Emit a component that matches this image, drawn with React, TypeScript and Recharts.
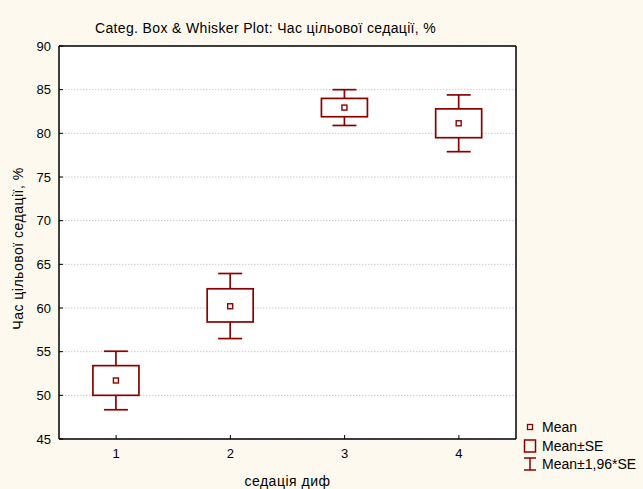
import React from 'react'
import { ComposedChart, Bar, XAxis, YAxis, CartesianGrid, Legend } from 'recharts'

// sedation groups and their statistics
const categories = ['1', '2', '3', '4']
const means = [51.7, 60.2, 82.95, 81.15]
const seLow = [50.0, 58.4, 81.9, 79.5]
const seHigh = [53.4, 62.2, 84.0, 82.8]
const ciLow = [48.35, 56.5, 80.9, 77.9]
const ciHigh = [55.05, 63.95, 85.0, 84.4]
const yTicks = [45, 50, 55, 60, 65, 70, 75, 80, 85, 90]

const data = categories.map((cat, i) => ({
  cat,
  mean: means[i],
  seLow: seLow[i],
  seHigh: seHigh[i],
  ci: [ciLow[i], ciHigh[i]],
}))

const RED = '#8b0000'
const FONT = '"Liberation Sans", Arial, sans-serif'

// the bar spans the 1.96*SE range; box and mean are placed inside it
const BoxShape = (props: any) => {
  const { x, y, width, height, payload } = props
  const top = Math.min(y, y + height)
  const h = Math.abs(height)
  const [lo, hi] = payload.ci
  const py = (v: number) => top + ((hi - v) / (hi - lo)) * h
  const cx = x + width / 2
  const boxW = 46
  const capW = 24
  return (
    <g>
      <line x1={cx} x2={cx} y1={py(hi)} y2={py(lo)} stroke={RED} strokeWidth={1.7} />
      <line x1={cx - capW / 2} x2={cx + capW / 2} y1={py(hi)} y2={py(hi)} stroke={RED} strokeWidth={1.7} />
      <line x1={cx - capW / 2} x2={cx + capW / 2} y1={py(lo)} y2={py(lo)} stroke={RED} strokeWidth={1.7} />
      <rect
        x={cx - boxW / 2}
        y={py(payload.seHigh)}
        width={boxW}
        height={py(payload.seLow) - py(payload.seHigh)}
        fill="#fff"
        stroke={RED}
        strokeWidth={1.7}
      />
      <rect x={cx - 2.5} y={py(payload.mean) - 2.5} width={5} height={5} fill="#fff" stroke={RED} strokeWidth={1.4} />
    </g>
  )
}

const LegendContent = () => (
  <div style={{ fontFamily: FONT, fontSize: 14, color: '#000', lineHeight: '18.5px' }}>
    <div style={{ display: 'flex', alignItems: 'center', height: 18.5 }}>
      <svg width={20} height={18}>
        <rect x={5.5} y={6.5} width={5} height={5} fill="none" stroke={RED} strokeWidth={1.3} />
      </svg>
      <span>Mean</span>
    </div>
    <div style={{ display: 'flex', alignItems: 'center', height: 18.5 }}>
      <svg width={20} height={18}>
        <rect x={2.5} y={3} width={11} height={12} fill="none" stroke={RED} strokeWidth={1.5} />
      </svg>
      <span>Mean±SE</span>
    </div>
    <div style={{ display: 'flex', alignItems: 'center', height: 18.5 }}>
      <svg width={20} height={18}>
        <line x1={8} x2={8} y1={3} y2={15} stroke={RED} strokeWidth={1.5} />
        <line x1={2} x2={14} y1={3} y2={3} stroke={RED} strokeWidth={1.5} />
        <line x1={2} x2={14} y1={15} y2={15} stroke={RED} strokeWidth={1.5} />
      </svg>
      <span>Mean±1,96*SE</span>
    </div>
  </div>
)

const YLabel = (props: any) => {
  const vb = props.viewBox
  const x = vb.x + 18
  const y = vb.y + vb.height / 2 + 6
  return (
    <text
      x={x}
      y={y}
      transform={`rotate(-90 ${x} ${y})`}
      textAnchor="middle"
      dominantBaseline="central"
      fontSize={14}
      letterSpacing={0.5}
      fill="#000"
    >
      Час цільової седації, %
    </text>
  )
}

const XLabel = (props: any) => {
  const vb = props.viewBox
  return (
    <text x={vb.x + vb.width / 2} y={vb.y + 47} textAnchor="middle" fontSize={14} letterSpacing={0.5} fill="#000">
      седація диф
    </text>
  )
}

const App = () => {
  return (
    <div
      style={{
        position: 'absolute',
        left: 0,
        top: 0,
        width: 643,
        height: 489,
        background: '#fef9ee',
        fontFamily: FONT,
      }}
    >
      <div
        style={{
          position: 'absolute',
          left: 95,
          top: 20,
          fontSize: 14,
          letterSpacing: '0.35px',
          lineHeight: '16px',
          color: '#000',
          whiteSpace: 'nowrap',
        }}
      >
        Categ. Box &amp; Whisker Plot: Час цільової седації, %
      </div>
      <ComposedChart width={643} height={489} data={data} margin={{ top: 45, right: 126, bottom: 0, left: 0 }}>
        <CartesianGrid horizontal vertical={false} fill="#fff" stroke="#cccccc" strokeDasharray="1.5 1.5" />
        <XAxis
          dataKey="cat"
          height={50}
          tickSize={-4}
          tickMargin={14}
          axisLine={{ stroke: '#000', strokeWidth: 1.5 }}
          tickLine={{ stroke: '#000' }}
          tick={{ fill: '#000', fontSize: 13 }}
          label={<XLabel />}
        />
        <XAxis
          xAxisId="top"
          orientation="top"
          dataKey="cat"
          height={1}
          tickSize={-4}
          tick={false}
          axisLine={{ stroke: '#000', strokeWidth: 1.5 }}
          tickLine={{ stroke: '#000' }}
        />
        <YAxis
          type="number"
          domain={[45, 90]}
          ticks={yTicks}
          width={59}
          tickSize={-4}
          tickMargin={12}
          axisLine={{ stroke: '#000', strokeWidth: 1.5 }}
          tickLine={{ stroke: '#000' }}
          tick={{ fill: '#000', fontSize: 13 }}
          label={<YLabel />}
        />
        <YAxis
          yAxisId="right"
          orientation="right"
          type="number"
          domain={[45, 90]}
          ticks={yTicks}
          width={1}
          tickSize={-4}
          tick={false}
          axisLine={{ stroke: '#000', strokeWidth: 1.5 }}
          tickLine={{ stroke: '#000' }}
        />
        <Bar dataKey="ci" shape={<BoxShape />} isAnimationActive={false} />
        <Legend
          layout="vertical"
          align="center"
          verticalAlign="middle"
          content={<LegendContent />}
          wrapperStyle={{ left: 522, top: 418, width: 121 }}
        />
      </ComposedChart>
    </div>
  )
}

export default App
